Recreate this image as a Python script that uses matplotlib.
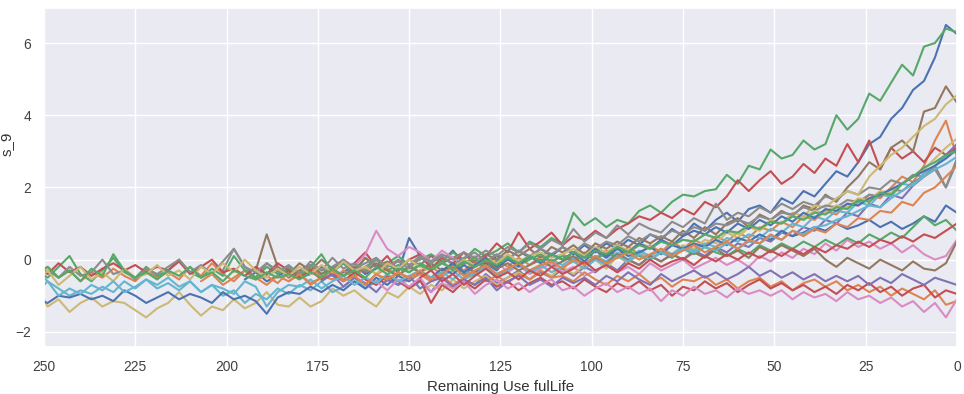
# s_9 sensor reading vs remaining useful life, one line per engine
import numpy as np
import matplotlib
matplotlib.use("Agg")
import matplotlib.pyplot as plt
import seaborn as sns

# sampling step of the readings (cycles); every series ends at RUL 0
step = 3

# values listed from the oldest reading (largest RUL) to RUL 0
eng_01 = [-0.55, -0.35, -0.6, -0.45, -0.3, -0.5, -0.4, -0.2, -0.45, -0.35, -0.15, -0.4,
          -0.25, -0.1, -0.35, 0.6, 0.1, -0.2, -0.05, 0.25, -0.1, 0.05, -0.15, 0.1,
          0.0, 0.25, 0.05, 0.3, 0.1, 0.35, 0.15, 0.4, 0.2, 0.45, 0.3, 0.55,
          0.4, 0.7, 0.55, 0.85, 0.65, 1.0, 0.8, 1.1, 1.3, 1.05, 1.4, 1.5,
          1.3, 1.7, 1.55, 1.9, 1.75, 2.1, 2.45, 2.3, 2.7, 3.2, 3.4, 3.9,
          4.2, 4.7, 4.95, 5.6, 6.5, 6.25]
eng_02 = [-0.6, -0.4, -0.7, -0.5, -0.3, -0.55, -0.45, -0.65, -0.35, -0.5, -0.25, -0.45,
          -0.55, -0.3, -0.5, -0.2, -0.4, -0.25, -0.45, -0.15, -0.35, -0.2, -0.4, -0.1,
          -0.3, -0.05, -0.25, 0.0, -0.2, 0.05, -0.15, 0.1, -0.1, 0.15, 0.0, 0.2,
          0.05, 0.25, 0.1, 0.35, 0.15, 0.4, 0.2, 0.5, 0.3, 0.55, 0.4, 0.65,
          0.5, 0.75, 0.6, 0.9, 0.8, 1.05, 0.9, 1.2, 1.1, 1.35, 1.25, 1.55,
          1.5, 1.8, 1.7, 2.0, 2.3, 2.15, 2.6, 3.3, 3.85, 2.85]
eng_03 = [-0.3, -0.15, -0.4, -0.2, -0.05, -0.3, 0.05, -0.2, -0.1, 0.1, -0.15, 0.0,
          0.15, -0.05, 0.2, 0.0, 0.3, 0.1, 0.25, 0.45, 0.2, 0.5, 0.35, 0.6,
          0.45, 1.3, 0.95, 1.15, 0.9, 1.1, 1.0, 1.35, 1.5, 1.3, 1.6, 1.8,
          1.75, 1.9, 1.95, 2.35, 2.1, 2.6, 2.5, 3.05, 2.8, 2.9, 3.3, 3.05,
          3.2, 4.0, 3.6, 3.9, 4.6, 4.4, 4.9, 5.4, 5.1, 5.9, 6.0, 6.4,
          6.3]
eng_04 = [-0.1, 0.2, -0.2, 0.1, -0.3, 0.0, 0.15, -0.25, 0.05, -0.1, 0.2, -0.15,
          0.1, 0.45, 0.2, 0.75, 0.3, 0.5, 0.75, 0.4, 0.65, 0.55, 0.8, 0.6,
          0.85, 1.0, 1.2, 1.1, 1.3, 1.15, 1.4, 1.25, 1.6, 1.45, 1.75, 2.2,
          1.9, 2.2, 2.45, 2.1, 2.3, 2.65, 2.4, 2.8, 2.6, 3.2, 2.7, 3.3,
          2.5, 3.1, 2.8, 3.0, 2.7, 3.1, 2.9, 3.1]
eng_05 = [-0.8, -0.6, -0.9, -0.5, -0.75, -0.55, -0.7, -0.4, -0.65, -0.5, -0.3, -0.55,
          -0.35, -0.5, -0.25, -0.45, -0.2, -0.35, -0.1, -0.3, 0.0, -0.15, 0.1, -0.05,
          0.15, 0.0, 0.25, 0.1, 0.35, 0.2, 0.45, 0.35, 0.6, 0.5, 0.75, 0.65,
          0.9, 0.8, 1.1, 1.0, 1.3, 1.2, 1.55, 1.45, 1.8, 1.7, 2.05, 2.3,
          2.6, 2.9, 3.2]
eng_06 = [-0.3, 0.7, -0.2, -0.4, -0.1, -0.3, 0.0, -0.25, -0.1, -0.35, 0.05, -0.2,
          -0.05, -0.3, 0.0, -0.15, 0.1, -0.1, 0.05, 0.2, -0.05, 0.15, 0.0, 0.25,
          0.1, 0.3, 0.05, 0.35, 0.2, 0.4, 0.15, 0.45, 0.3, 0.5, 0.35, 0.6,
          0.45, 0.65, 0.5, 0.8, 0.6, 0.9, 0.7, 1.0, 1.15, 0.9, 1.25, 1.1,
          1.35, 1.2, 1.5, 1.4, 1.8, 1.6, 2.0, 2.3, 2.7, 2.5, 3.1, 3.3,
          3.0, 4.1, 4.2, 4.8, 4.35]
eng_07 = [0.0, -0.2, 0.15, 0.8, 0.3, 0.1, 0.35, 0.2, -0.05, 0.25, 0.05, -0.15,
          0.1, -0.2, -0.05, -0.35, -0.15, -0.4, -0.25, -0.1, -0.35, -0.2, -0.45, -0.3,
          -0.15, -0.35, -0.2, -0.4, -0.1, -0.3, -0.15, 0.0, -0.25, -0.1, 0.05, -0.15,
          0.0, -0.2, 0.1, -0.05, 0.2, 0.05, 0.3, 0.15, 0.45, 0.25, 0.55, 0.35,
          0.5, 0.3, 0.45, 0.2, 0.4, 0.15, 0.0, 0.1, 0.55]
eng_08 = [-0.3, 0.3, -0.2, -0.5, -0.1, -0.35, -0.15, -0.4, -0.05, -0.3, -0.2, 0.0,
          -0.25, -0.1, 0.05, -0.2, 0.0, -0.15, 0.1, -0.05, 0.15, 0.0, 0.2, 0.05,
          0.25, 0.1, 0.35, 0.2, 0.45, 0.3, 0.55, 0.4, 0.85, 0.5, 0.75, 0.6,
          0.95, 0.7, 1.0, 0.85, 0.75, 1.05, 0.9, 1.15, 1.0, 1.55, 1.1, 1.3,
          1.2, 1.45, 1.3, 1.55, 1.4, 1.6, 1.5, 1.75, 1.65, 1.9, 1.8, 2.0,
          1.95, 2.2, 2.1, 2.35, 2.3, 2.6, 2.0, 2.8]
eng_09 = [-0.7, -1.3, -1.1, -1.45, -1.2, -1.05, -1.3, -1.15, -1.2, -1.4, -1.6, -1.35,
          -1.2, -0.9, -1.25, -1.55, -1.3, -1.4, -1.1, -1.35, -1.2, -0.9, -1.25, -1.3,
          -1.05, -1.3, -1.15, -0.8, -1.0, -0.85, -1.1, -1.3, -0.9, -1.05, -0.75, -0.95,
          -0.7, -0.85, -0.55, -0.8, -0.6, -0.45, -0.7, -0.5, -0.35, -0.55, -0.3, -0.45,
          -0.2, -0.4, -0.15, 0.0, -0.25, 0.1, -0.1, 0.2, 0.05, 0.3, 0.15, 0.4,
          0.3, 0.55, 0.45, 0.75, 0.6, 0.9, 0.8, 1.05, 1.0, 1.3, 1.2, 1.5,
          1.45, 1.7, 1.9, 1.8, 2.3, 2.6, 2.9, 3.1, 3.4, 3.7, 3.9, 4.3,
          4.55]
eng_10 = [-0.3, -0.6, -0.8, -1.0, -0.85, -0.95, -0.75, -0.9, -0.6, -0.8, -0.55, -0.7,
          -0.5, -0.75, -0.6, -0.9, -0.7, -1.0, -0.85, -1.2, -0.95, -1.1, -0.8, -0.95,
          -0.7, -0.85, -0.6, -0.9, -0.75, -0.5, -0.8, -0.6, -0.45, -0.7, -0.55, -0.4,
          -0.6, -0.45, -0.3, -0.55, -0.4, -0.2, -0.45, -0.3, -0.1, -0.35, -0.2, 0.0,
          -0.15, 0.05, -0.1, 0.1, -0.05, 0.2, 0.0, 0.25, 0.1, 0.3, 0.15, 0.35,
          0.25, 0.45, 0.35, 0.6, 0.5, 0.7, 0.6, 0.85, 0.75, 1.0, 0.9, 1.2,
          1.1, 1.35, 1.3, 1.6, 1.5, 1.8, 1.75, 2.1, 2.05, 2.4, 2.6, 2.85,
          3.05]
eng_11 = [-1.1, -1.2, -1.0, -1.05, -0.95, -1.1, -1.0, -1.15, -0.85, -1.0, -1.2, -1.05,
          -0.9, -1.1, -0.95, -1.05, -1.2, -0.9, -1.1, -1.0, -1.15, -1.5, -1.05, -0.9,
          -0.95, -0.75, -0.9, -0.7, -0.85, -0.6, -0.8, -0.5, -0.7, -0.45, -0.6, -0.35,
          -0.5, -0.25, -0.4, -0.15, -0.35, -0.1, -0.3, 0.05, -0.2, 0.1, -0.1, 0.15,
          0.0, 0.2, -0.05, 0.25, 0.05, 0.3, 0.1, 0.2, 0.35, 0.15, 0.4, 0.3,
          0.45, 0.35, 0.55, 0.4, 0.6, 0.5, 0.7, 0.55, 0.8, 0.65, 0.75, 0.9,
          0.8, 1.0, 0.85, 0.95, 1.1, 0.9, 1.05, 0.85, 1.0, 1.2, 1.05, 1.5,
          1.3]
eng_12 = [-0.4, -0.2, -0.5, -0.3, -0.6, -0.35, -0.5, -0.25, -0.45, -0.6, -0.3, -0.5,
          -0.35, -0.55, -0.2, -0.45, -0.1, -0.4, -0.6, -0.3, -0.5, -0.7, -0.45, -0.6,
          -0.4, -0.65, -0.5, -0.3, -0.55, -0.45, -0.7, -0.4, -0.6, -0.35, -0.55, -0.4,
          -0.6, -0.45, -0.7, -0.5, -0.35, -0.6, -0.45, -0.65, -0.4, -0.55, -0.3, -0.5,
          -0.45, -0.6, -0.35, -0.55, -0.7, -0.45, -0.6, -0.4, -0.65, -0.5, -0.75, -0.55,
          -0.6, -0.45, -0.7, -0.55, -0.8, -0.6, -0.5, -0.75, -0.6, -0.85, -0.65, -0.55,
          -0.75, -0.6, -0.85, -0.7, -0.9, -0.75, -1.0, -0.8, -0.95, -1.1, -0.85, -1.25,
          -1.15]
eng_13 = [-0.3, -0.5, -0.2, 0.1, -0.4, -0.6, -0.3, 0.05, -0.35, -0.5, -0.2, -0.45,
          -0.3, 0.0, -0.35, -0.5, -0.25, -0.45, 0.1, -0.3, -0.5, -0.2, -0.4, -0.25,
          -0.45, -0.2, 0.15, -0.35, -0.1, -0.4, -0.2, 0.0, -0.3, -0.15, -0.35, -0.1,
          -0.25, -0.05, -0.3, -0.1, 0.05, -0.2, -0.05, 0.1, -0.15, 0.0, 0.15, -0.05,
          0.1, -0.05, 0.15, 0.0, 0.2, 0.05, 0.25, 0.1, 0.0, 0.2, 0.05, 0.3,
          0.15, 0.35, 0.2, 0.1, 0.3, 0.15, 0.4, 0.25, 0.45, 0.3, 0.5, 0.35,
          0.55, 0.4, 0.6, 0.45, 0.7, 0.55, 0.75, 0.6, 0.9, 1.2, 0.95, 1.1,
          0.8]
eng_14 = [-0.2, -0.4, -0.1, -0.35, -0.2, -0.45, -0.25, -0.1, -0.3, -0.15, -0.35, -0.2,
          -0.3, -0.05, -0.4, -0.2, 0.0, -0.35, -0.25, -0.45, -0.2, -0.4, -0.1, -0.3,
          -0.5, -0.3, -0.55, -0.4, -0.6, -0.35, -0.55, -0.7, -0.45, -0.6, -0.8, -0.55,
          -1.2, -0.7, -0.9, -0.6, -0.8, -0.55, -0.75, -0.6, -0.85, -0.65, -0.5, -0.7,
          -0.6, -0.8, -0.55, -0.75, -0.9, -0.65, -0.8, -0.6, -0.85, -0.7, -1.0, -0.75,
          -0.85, -0.6, -0.8, -0.65, -0.9, -0.7, -0.55, -0.8, -0.65, -0.85, -0.7, -0.9,
          -0.75, -0.95, -0.7, -0.85, -0.65, -0.9, -0.75, -1.0, -0.8, -0.7, -1.05, -0.85,
          -0.95]
eng_15 = [-0.6, -0.4, -0.75, -0.5, -0.65, -0.9, -0.55, -0.7, -0.45, -0.8, -0.6, -0.5,
          -0.75, -0.55, -0.7, -0.5, -0.85, -0.6, -0.45, -0.7, -0.55, -0.75, -0.5, -0.65,
          -0.5, -0.7, -0.45, -0.6, -0.35, -0.55, -0.7, -0.4, -0.6, -0.45, -0.3, -0.5,
          -0.35, -0.55, -0.4, -0.2, -0.45, -0.3, -0.5, -0.35, -0.55, -0.4, -0.6, -0.45,
          -0.6, -0.45, -0.7, -0.5, -0.65, -0.4, -0.55, -0.7, -0.5, -0.6, -0.7]
eng_16 = [-0.4, -0.2, -0.5, -0.3, -0.15, -0.4, -0.25, -0.45, -0.2, -0.35, -0.1, -0.3,
          -0.45, -0.2, -0.35, -0.1, -0.3, -0.15, -0.4, -0.2, -0.05, -0.25, -0.1, -0.3,
          -0.15, 0.0, -0.2, -0.05, 0.1, -0.15, 0.05, -0.1, 0.15, 0.0, -0.15, 0.1,
          -0.05, 0.15, 0.0, 0.2, 0.05, 0.3, 0.1, 0.25, 0.05, 0.35, 0.2, 0.4,
          0.25, 0.1, 0.3, 0.0, -0.2, 0.05, -0.1, -0.25, 0.0, -0.15, -0.3, -0.05,
          -0.25, -0.3, -0.1, 0.5]
eng_17 = [-0.6, -0.85, -0.55, -0.75, -0.5, -0.9, -0.65, -0.8, -0.6, -0.95, -0.7, -0.55,
          -0.8, -0.65, -0.9, -0.7, -0.55, -0.85, -0.75, -1.0, -0.8, -0.65, -0.9, -0.75,
          -0.95, -0.8, -1.15, -0.85, -1.0, -0.75, -0.95, -0.85, -1.05, -0.8, -0.95, -0.85,
          -1.0, -0.85, -1.1, -0.9, -1.05, -0.95, -1.15, -0.9, -1.1, -1.0, -1.2, -1.05,
          -1.3, -1.15, -1.45, -1.2, -1.6, -1.1]
eng_18 = [-0.4, -0.3, -0.5, -0.2, -0.45, -0.35, 0.0, -0.4, -0.3, -0.55, -0.25, -0.4,
          -0.2, 0.0, -0.35, -0.15, -0.4, -0.05, 0.3, -0.2, -0.35, -0.1, -0.3, -0.2,
          -0.35, -0.15, -0.3, 0.05, -0.25, -0.1, -0.3, 0.0, -0.2, -0.05, -0.25, 0.05,
          -0.1, 0.1, -0.15, 0.05, 0.2, -0.05, 0.15, 0.0, 0.25, 0.1, 0.3, 0.15,
          0.35, 0.2, 0.45, 0.3, 0.5, 0.4, 0.65, 0.5, 0.7, 0.6, 0.8, 0.7,
          0.9, 0.8, 1.0, 0.95, 1.1, 1.0, 1.2, 1.1, 1.3, 1.25, 1.45, 1.35,
          1.5, 1.45, 1.65, 1.6, 1.8, 1.75, 1.95, 1.9, 2.15, 2.3, 2.5, 2.0,
          2.7]
eng_19 = [-0.6, -0.3, -0.7, -0.45, -0.2, -0.55, -0.35, -0.6, -0.25, -0.5, -0.4, -0.15,
          -0.45, -0.3, -0.55, -0.2, -0.4, -0.1, -0.35, 0.0, -0.3, -0.5, -0.25, -0.45,
          -0.2, -0.4, -0.15, -0.35, -0.05, -0.3, -0.2, -0.4, -0.1, -0.25, 0.0, -0.2,
          -0.3, -0.1, -0.25, 0.0, -0.15, 0.05, -0.1, 0.15, -0.05, 0.1, 0.2, 0.05,
          0.15, 0.3, 0.1, 0.35, 0.2, 0.4, 0.25, 0.45, 0.35, 0.5, 0.4, 0.55,
          0.5, 0.7, 0.6, 0.8, 0.7, 0.95, 0.85, 1.1, 1.0, 1.2, 1.15, 1.35,
          1.3, 1.5, 1.45, 1.7, 1.65, 1.9, 1.85, 2.1, 2.3, 2.5, 2.8, 3.1,
          3.35]
eng_20 = [-0.9, -0.6, -1.0, -0.8, -0.95, -0.7, -0.85, -0.6, -0.9, -0.75, -0.55, -0.8,
          -0.65, -0.85, -0.6, -0.9, -0.7, -0.8, -0.95, -0.6, -0.75, -1.3, -0.9, -0.7,
          -0.75, -0.55, -0.8, -0.6, -0.45, -0.7, -0.5, -0.65, -0.4, -0.6, -0.45, -0.3,
          -0.5, -0.35, -0.55, -0.3, -0.45, -0.2, -0.4, -0.25, -0.1, -0.3, -0.15, -0.35,
          -0.2, -0.05, -0.25, 0.0, -0.15, 0.1, -0.05, 0.15, 0.0, 0.2, 0.1, 0.3,
          0.2, 0.35, 0.25, 0.45, 0.3, 0.5, 0.45, 0.65, 0.55, 0.8, 0.7, 0.9,
          0.95, 1.1, 1.2, 1.35, 1.5, 1.45, 1.7, 1.9, 2.1, 2.3, 2.5, 2.65,
          2.85]
eng_21 = [-0.3, -0.1, -0.35, -0.15, 0.05, -0.2, 0.0, -0.15, 0.1, -0.05, 0.15, 0.0,
          0.2, 0.05, 0.3, 0.1, 0.35, 0.2, 0.45, 0.3, 0.55, 0.4, 0.65, 0.8,
          0.7, 0.9, 0.75, 1.0, 0.85, 1.1, 0.95, 1.2, 1.05, 1.3, 1.15, 1.4,
          1.35, 1.55, 1.5, 1.7, 1.8, 1.95, 2.1, 2.3, 2.45, 2.6, 2.8, 3.05]
eng_22 = [-0.6, -0.4, -0.7, -0.5, -0.3, -0.6, -0.45, -0.7, -0.4, -0.55, -0.35, -0.5,
          -0.3, -0.55, -0.4, -0.2, -0.45, -0.3, -0.15, -0.4, -0.25, -0.1, -0.3, -0.15,
          -0.05, -0.25, 0.0, -0.15, 0.1, -0.1, 0.05, 0.2, 0.0, 0.15, 0.3, 0.1,
          0.25, 0.4, 0.2, 0.35, 0.5, 0.3, 0.55, 0.45, 0.7, 0.55, 0.8, 0.65,
          0.85, 0.75, 1.0, 0.9, 1.15, 1.1, 1.35, 1.3, 1.6, 1.5, 1.85, 2.0,
          2.3, 2.6]
eng_23 = [-0.4, -0.2, -0.5, -0.3, -0.6, -0.25, -0.45, 0.15, -0.3, -0.5, -0.35, -0.55,
          -0.3, -0.45, -0.2, -0.5, -0.35, -0.6, -0.3, -0.45, -0.55, -0.35, -0.5, -0.4,
          -0.55, -0.35, -0.5, -0.25, -0.45, -0.3, -0.5, -0.2, -0.4, -0.25, -0.35, -0.15,
          -0.3, -0.1, -0.25, -0.05, -0.2, 0.0, -0.15, 0.05, -0.1, 0.1, -0.05, 0.15,
          0.0, 0.2, 0.05, 0.25, 0.15, 0.35, 0.2, 0.4, 0.3, 0.5, 0.4, 0.55,
          0.5, 0.7, 0.6, 0.8, 0.75, 0.95, 0.85, 1.05, 1.0, 1.2, 1.1, 1.3,
          1.25, 1.45, 1.4, 1.65, 1.6, 1.85, 1.8, 2.1, 2.3, 2.55, 2.7, 2.9,
          3.0]
eng_24 = [-0.5, -0.3, -0.6, -0.4, -0.7, -0.45, -0.25, -0.5, -0.35, -0.55, -0.3, -0.45,
          -0.2, -0.4, -0.25, -0.05, -0.3, -0.15, -0.35, -0.1, -0.25, 0.0, -0.2, -0.05,
          0.05, -0.15, 0.1, -0.05, 0.15, 0.0, 0.2, 0.05, 0.25, 0.1, 0.3, 0.15,
          0.35, 0.2, 0.4, 0.3, 0.5, 0.35, 0.55, 0.45, 0.65, 0.5, 0.7, 0.6,
          0.8, 1.0]

engines = [eng_01, eng_02, eng_03, eng_04, eng_05, eng_06, eng_07, eng_08,
           eng_09, eng_10, eng_11, eng_12, eng_13, eng_14, eng_15, eng_16,
           eng_17, eng_18, eng_19, eng_20, eng_21, eng_22, eng_23, eng_24]

x_ticks = [250, 225, 200, 175, 150, 125, 100, 75, 50, 25, 0]
y_ticks = [-2, 0, 2, 4, 6]

sns.set_theme()  # darkgrid, deep palette
plt.rcParams['font.family'] = ['Liberation Sans', 'DejaVu Sans']

fig = plt.figure(figsize=(9.64, 3.94), dpi=100)
ax = fig.add_axes([0.0456, 0.1193, 0.947, 0.8604])

for vals in engines:
    rul = np.arange(len(vals) - 1, -1, -1) * step
    ax.plot(rul, vals, linewidth=1.5)

ax.set_xlim(250, 0)
ax.set_ylim(-2.42, 6.97)
ax.set_xticks(x_ticks)
ax.set_yticks(y_ticks)
ax.tick_params(labelsize=9.9, colors='.25')
ax.set_xlabel('Remaining Use fulLife', fontsize=10.8, color='.2')
ax.set_ylabel('s_9', fontsize=10.8, color='.2')
ax.yaxis.set_label_coords(-0.033, 0.60)

plt.savefig('out.png', dpi=100)
